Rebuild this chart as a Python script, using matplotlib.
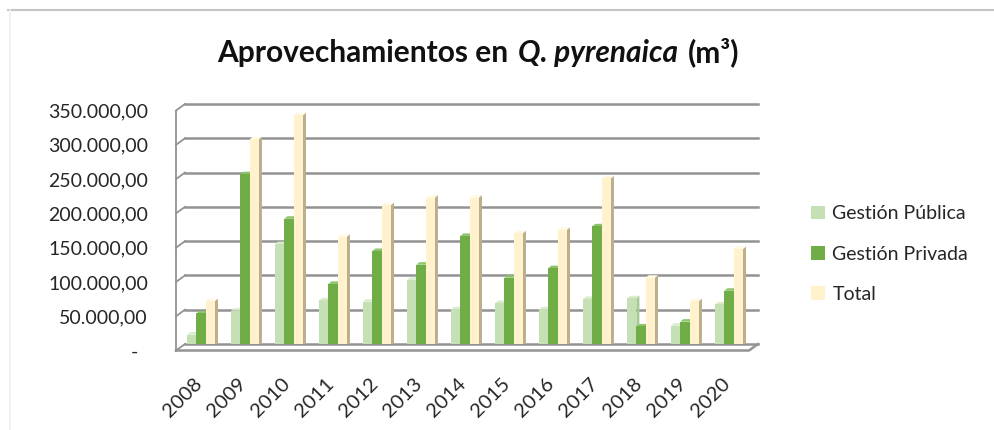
import matplotlib
matplotlib.use("Agg")
import matplotlib.pyplot as plt
from matplotlib.patches import Polygon, Patch
from matplotlib import transforms
from matplotlib.offsetbox import TextArea, HPacker, AnchoredOffsetbox
from matplotlib.lines import Line2D

plt.rcParams['font.family'] = ['Lato', 'DejaVu Sans']

years = ["2008", "2009", "2010", "2011", "2012", "2013", "2014",
         "2015", "2016", "2017", "2018", "2019", "2020"]
publica = [18000, 53000, 150000, 68000, 66000, 98000, 55000,
           64000, 55000, 70000, 71000, 31000, 62000]
privada = [49000, 252000, 187000, 92000, 140000, 120000, 162000,
           101000, 115000, 176000, 30000, 37000, 82000]
total = [67000, 303000, 338000, 161000, 207000, 218000, 218000,
         166000, 171000, 246000, 101000, 67000, 143000]
ytick_vals = [0, 50000, 100000, 150000, 200000, 250000, 300000, 350000]
ytick_labels = ["-", "50.000,00", "100.000,00", "150.000,00", "200.000,00",
                "250.000,00", "300.000,00", "350.000,00"]
series_names = ["Gestión Pública", "Gestión Privada", "Total"]

# front / side / top shades for the fake 3D columns
colors = [("#c5e0b4", "#a8c897", "#d9ecca"),
          ("#70ad47", "#548b32", "#8cc46a"),
          ("#fff2cc", "#bcae8c", "#fff8e2")]
grid_col = "#939393"
text_col = "#262626"

W, H = 994, 430
fig = plt.figure(figsize=(W / 100, H / 100), dpi=100)
ax = fig.add_axes([185 / W, 1 - 344 / H, 573 / W, 240 / H])
ax.axis("off")

x0, x1 = -0.364, 573 / 44 - 0.364
upx = 1 / 44            # data units per pixel (x)
vpx = 350000 / 240      # data units per pixel (y)
ddx, ddy = -9 * upx, -6.5 * vpx   # depth: back wall -> front

# back wall gridlines + left wall
for v in ytick_vals:
    ax.plot([x0, x1], [v, v], color=grid_col, lw=1.8, clip_on=False, zorder=1)
    ax.plot([x0, x0 + ddx], [v, v + ddy], color=grid_col, lw=1.3, clip_on=False, zorder=1)
ax.plot([x0 + ddx] * 2, [ytick_vals[-1] + ddy, ddy], color=grid_col, lw=1.3, clip_on=False, zorder=1)
# floor front edge
ax.plot([x0 + ddx, x1 + ddx, x1], [ddy, ddy, 0], color=grid_col, lw=1.8, clip_on=False, zorder=1)

bw = 9.3 / 44
dx, dy = 3 * upx, 2.5 * vpx
base = -3 * vpx
xs = list(range(len(years)))
for k, vals in enumerate([publica, privada, total]):
    front, side, top = colors[k]
    bars = ax.bar([x + (k - 1) * bw for x in xs], vals, width=bw, bottom=base,
                  color=front, linewidth=0, zorder=3 + k * 2)
    for r in bars:
        a, b = r.get_x(), r.get_x() + r.get_width()
        y0, y1 = r.get_y(), r.get_y() + r.get_height()
        ax.add_patch(Polygon([(b, y0), (b + dx, y0 + dy), (b + dx, y1 + dy), (b, y1)],
                             facecolor=side, lw=0, zorder=2 + k * 2))
        ax.add_patch(Polygon([(a, y1), (b, y1), (b + dx, y1 + dy), (a + dx, y1 + dy)],
                             facecolor=top, lw=0, zorder=2 + k * 2))

ax.set_xlim(x0, x1)
ax.set_ylim(0, 350000)

# y labels (sit on the front edge of the left wall)
for v, lbl in zip(ytick_vals, ytick_labels):
    shift = -47 if lbl == "-" else -37
    tr = transforms.blended_transform_factory(ax.transAxes, ax.transData) + \
        transforms.ScaledTranslation(shift / 100, -8 / 100, fig.dpi_scale_trans)
    ax.text(0, v, lbl, transform=tr, ha="right", va="center",
            fontsize=14, color=text_col)

# x labels
xtr = ax.transData + transforms.ScaledTranslation(-2 / 100, -37 / 100, fig.dpi_scale_trans)
for x, yr in zip(xs, years):
    ax.text(x, 0, yr, transform=xtr, rotation=45, rotation_mode="anchor",
            ha="right", va="center", fontsize=14.5, color=text_col)

# title with mixed styles
tp = dict(fontsize=21.5, fontweight="bold", color="#111111")
parts = [TextArea("Aprovechamientos en", textprops=tp),
         TextArea("Q. pyrenaica", textprops=dict(tp, fontstyle="italic")),
         TextArea("(m³)", textprops=tp)]
pack = HPacker(children=parts, sep=7, align="baseline", pad=0)
fig.add_artist(AnchoredOffsetbox(loc="center", child=pack, frameon=False, pad=0,
                                 borderpad=0, bbox_to_anchor=(478 / W, 1 - 52 / H),
                                 bbox_transform=fig.transFigure))

handles = [Patch(facecolor=c[0], edgecolor="none") for c in colors]
fig.legend(handles, series_names, loc="center left", bbox_to_anchor=(811 / W, 1 - 254 / H),
           frameon=False, handlelength=0.7, handleheight=0.7, handletextpad=0.4,
           labelspacing=1.2, fontsize=14, borderpad=0, borderaxespad=0,
           labelcolor=text_col)

# chart frame bits
fig.add_artist(Line2D([8 / W, 1], [1 - 10 / H] * 2, transform=fig.transFigure,
                      color="#c4c4c4", lw=1.5))
fig.add_artist(Line2D([10 / W] * 2, [0, 1 - 10 / H], transform=fig.transFigure,
                      color="#f0f0f0", lw=1.2))

fig.savefig("out.png", dpi=100, facecolor="white")
